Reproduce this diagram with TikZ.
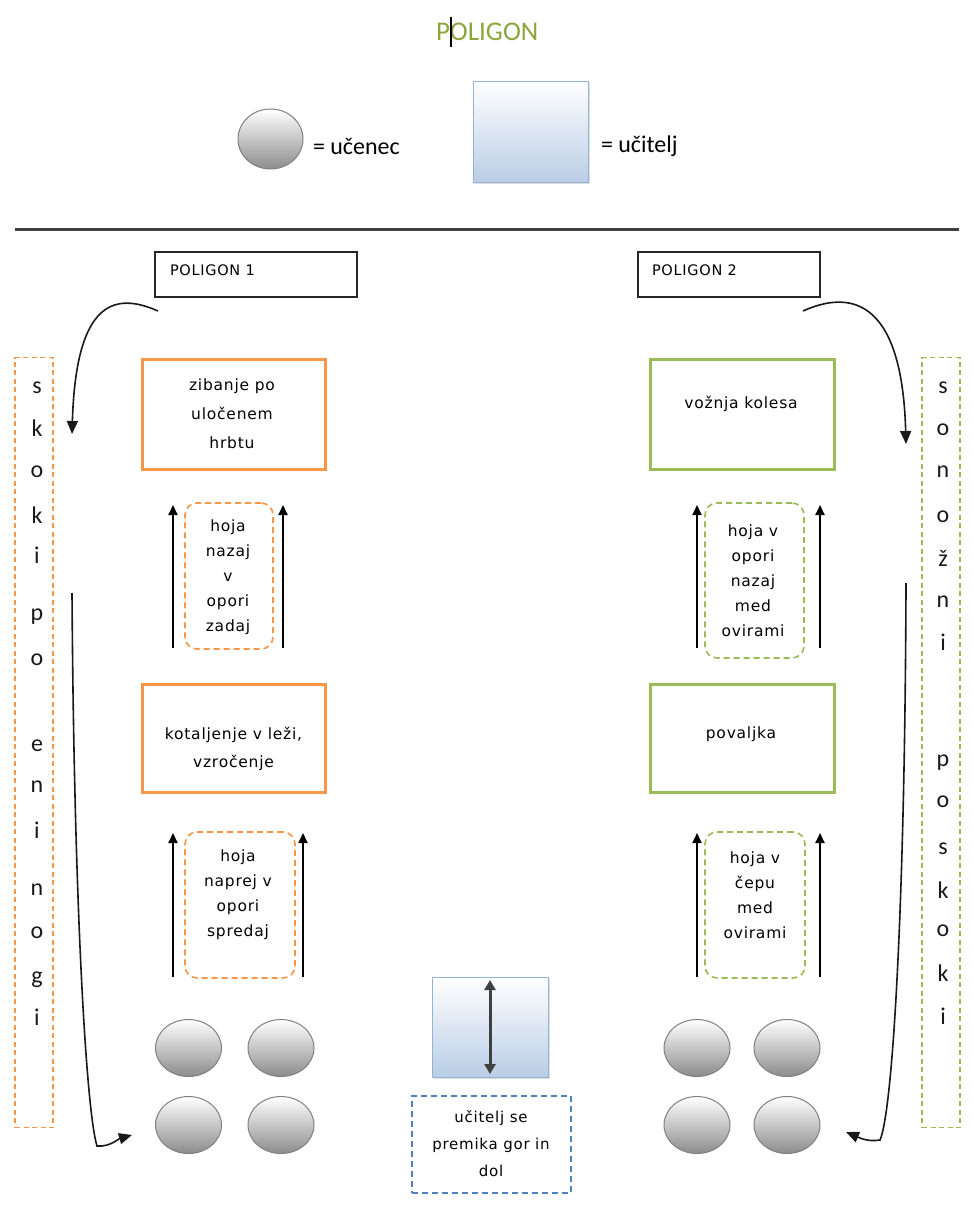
\documentclass[tikz,border=0pt]{standalone}
\usepackage{fontspec}
\setmainfont{Carlito}
\newfontfamily\lblfont[LetterSpace=5]{DejaVu Sans}
\usetikzlibrary{arrows.meta,shapes.geometric,shadows}
\definecolor{orng}{RGB}{247,150,70}
\definecolor{grn}{RGB}{155,187,89}
\definecolor{blu}{RGB}{79,129,189}
\definecolor{tchfill}{RGB}{185,205,229}
\definecolor{tchdraw}{RGB}{149,179,215}
\definecolor{ttl}{RGB}{140,165,60}
\tikzset{
  every node/.style={inner sep=0pt,outer sep=0pt},
  ucenec/.style={ellipse,draw=black!50,line width=1pt,top color=white,bottom color=black!45,minimum width=66pt,minimum height=57pt},
  ucitelj/.style={rectangle,draw=tchdraw,line width=1pt,top color=white,bottom color=tchfill,
    drop shadow={shadow xshift=1.5pt,shadow yshift=-1.5pt,opacity=0.25}},
  legtxt/.style={font=\fontsize{24}{28}\selectfont,text=black},
  lbl/.style={font=\lblfont\fontsize{15.5}{25}\selectfont,align=center,text=black},
  ptxt/.style={font=\lblfont\fontsize{14.5}{16}\selectfont,text=black},
  pbox/.style={rectangle,draw=black!85,line width=1.5pt},
  obox/.style={rectangle,draw=orng,line width=3pt},
  gbox/.style={rectangle,draw=grn,line width=3pt},
  odash/.style={rectangle,draw=orng,line width=1.6pt,dash pattern=on 6pt off 4pt,rounded corners=12pt},
  gdash/.style={rectangle,draw=grn,line width=1.6pt,dash pattern=on 6pt off 4pt,rounded corners=12pt},
  bdash/.style={rectangle,draw=blu,line width=1.5pt,dash pattern=on 6pt off 4pt},
  vletter/.style={font=\fontsize{24}{28}\selectfont,text=black!90},
  uparrow/.style={line width=2pt,-{Triangle[length=10pt,width=9pt]}},
  curvearrow/.style={line width=1.6pt,black!90,-{Triangle[length=13pt,width=11pt]}},
}
\begin{document}
\begin{tikzpicture}[x=1pt,y=-1pt]
\useasboundingbox[fill=white] (0,0) rectangle (973,1230);

% title
\node[font=\fontsize{27}{30}\selectfont,text=ttl,anchor=west] (title) at (436,32) {POLIGON};
\coordinate (curT) at (451,17);
\coordinate (curB) at (451,47);
\draw[line width=1.5pt,black] (curT) -- (curB);

% legend
\node[ucenec,minimum width=65pt,minimum height=60pt] (legS) at (270.5,139) {};
\node[legtxt,anchor=west] (legStxt) at (313,146) {= učenec};
\node[ucitelj,minimum width=115pt,minimum height=101pt] (legT) at (531,132.5) {};
\node[legtxt,anchor=west] (legTtxt) at (601,146) {= učitelj};

% separator
\coordinate (sepL) at (15,229.5);
\coordinate (sepR) at (959,229.5);
\draw[line width=2.5pt,black!75] (sepL) -- (sepR);

% POLIGON boxes
\node[pbox,minimum width=202pt,minimum height=45pt] (p1) at (256,274.5) {};
\node[ptxt,anchor=west] (p1t) at (170,270) {POLIGON 1};
\node[pbox,minimum width=182pt,minimum height=45pt] (p2) at (729,274.5) {};
\node[ptxt,anchor=west] (p2t) at (652,270) {POLIGON 2};

% vertical dashed boxes
\node[rectangle,draw=orng,line width=1.3pt,dash pattern=on 5pt off 3.5pt,minimum width=38pt,minimum height=770pt] (vl) at (34,742.5) {};
\node[rectangle,draw=grn,line width=1.3pt,dash pattern=on 5pt off 3.5pt,minimum width=38pt,minimum height=770pt] (vr) at (941,742.5) {};

\foreach \ch/\yy [count=\i] in {s/388,k/428,o/472,k/515,i/555,p/617,o/660,e/746,n/787,i/830,n/890,o/933,g/980,i/1017}
  \node[vletter] (lt\i) at (37,\yy) {\ch};
\foreach \ch/\yy [count=\i] in {s/388,o/430,n/472,o/517,ž/558,n/602,i/642,p/763,o/802,s/849,k/890,o/931,k/973,i/1016}
  \node[vletter] (rt\i) at (943,\yy) {\ch};

% left column
\node[obox,minimum width=183pt,minimum height=110pt] (o1) at (233.5,414) {};
\node[lbl,font=\lblfont\fontsize{15.5}{29}\selectfont] (o1t) at (232,414) {zibanje po\\uločenem\\hrbtu};
\node[odash,minimum width=88pt,minimum height=146pt] (d1) at (229,576) {};
\node[lbl] (d1t) at (228,577) {hoja\\nazaj\\v\\opori\\zadaj};
\node[obox,minimum width=183pt,minimum height=108pt] (o2) at (233.5,738) {};
\node[lbl,font=\lblfont\fontsize{15.5}{28}\selectfont] (o2t) at (233.5,749) {kotaljenje v leži,\\vzročenje};
\node[odash,minimum width=110pt,minimum height=146pt] (d2) at (240,905) {};
\node[lbl] (d2t) at (238,895) {hoja\\naprej v\\opori\\spredaj};

% right column
\node[gbox,minimum width=184pt,minimum height=110pt] (g1) at (742,414) {};
\node[lbl] (g1t) at (741,404) {vožnja kolesa};
\node[gdash,minimum width=99pt,minimum height=155pt] (e1) at (754.5,580.5) {};
\node[lbl] (e1t) at (753,580.5) {hoja v\\opori\\nazaj\\med\\ovirami};
\node[gbox,minimum width=184pt,minimum height=108pt] (g2) at (742,738) {};
\node[lbl] (g2t) at (741,734) {povaljka};
\node[gdash,minimum width=100pt,minimum height=146pt] (e2) at (755,905) {};
\node[lbl] (e2t) at (755,895) {hoja v\\čepu\\med\\ovirami};

% up arrows
\coordinate (a1s) at (173,648); \coordinate (a1e) at (173,505);
\coordinate (a2s) at (283,648); \coordinate (a2e) at (283,505);
\coordinate (a3s) at (173,977); \coordinate (a3e) at (173,833);
\coordinate (a4s) at (303,977); \coordinate (a4e) at (303,833);
\coordinate (a5s) at (697,648); \coordinate (a5e) at (697,505);
\coordinate (a6s) at (820,648); \coordinate (a6e) at (820,505);
\coordinate (a7s) at (697,977); \coordinate (a7e) at (697,833);
\coordinate (a8s) at (820,977); \coordinate (a8e) at (820,833);
\foreach \k in {1,...,8} \draw[uparrow] (a\k s) -- (a\k e);

% students
\node[ucenec] (s1) at (188.5,1048) {};
\node[ucenec] (s2) at (281,1048) {};
\node[ucenec] (s3) at (188.5,1125) {};
\node[ucenec] (s4) at (281,1125) {};
\node[ucenec] (s5) at (697,1048) {};
\node[ucenec] (s6) at (787,1048) {};
\node[ucenec] (s7) at (697,1125) {};
\node[ucenec] (s8) at (787,1125) {};

% teacher
\node[ucitelj,minimum width=116pt,minimum height=100pt] (t) at (490,1027) {};
\coordinate (tu) at (490,980);
\coordinate (td) at (490,1074);
\draw[line width=3pt,black!75,{Triangle[length=10pt,width=11pt]}-{Triangle[length=10pt,width=11pt]}] (tu) -- (td);
\node[bdash,minimum width=159pt,minimum height=97pt] (tb) at (491.5,1144.5) {};
\node[lbl,font=\lblfont\fontsize{15}{27}\selectfont] (tbt) at (491,1143.5) {učitelj se\\premika gor in\\dol};

% curved arrows
\coordinate (c1s) at (158,311);
\coordinate (c1e) at (72,434);
\draw[curvearrow] (c1s) .. controls (115,292) and (76,300) .. (c1e);
\coordinate (c2s) at (72,593);
\coordinate (c2m) at (97,1146);
\coordinate (c2e) at (132,1135);
\draw[curvearrow] (c2s) .. controls (74,900) and (86,1110) .. (c2m) .. controls (110,1147) and (118,1139) .. (c2e);
\coordinate (c3s) at (803,311);
\coordinate (c3e) at (906,444);
\draw[curvearrow] (c3s) .. controls (845,292) and (902,292) .. (c3e);
\coordinate (c4s) at (906,583);
\coordinate (c4m) at (880,1140);
\coordinate (c4e) at (846,1132);
\draw[curvearrow] (c4s) .. controls (905,900) and (893,1110) .. (c4m) .. controls (868,1142) and (860,1138) .. (c4e);
\end{tikzpicture}
\end{document}
